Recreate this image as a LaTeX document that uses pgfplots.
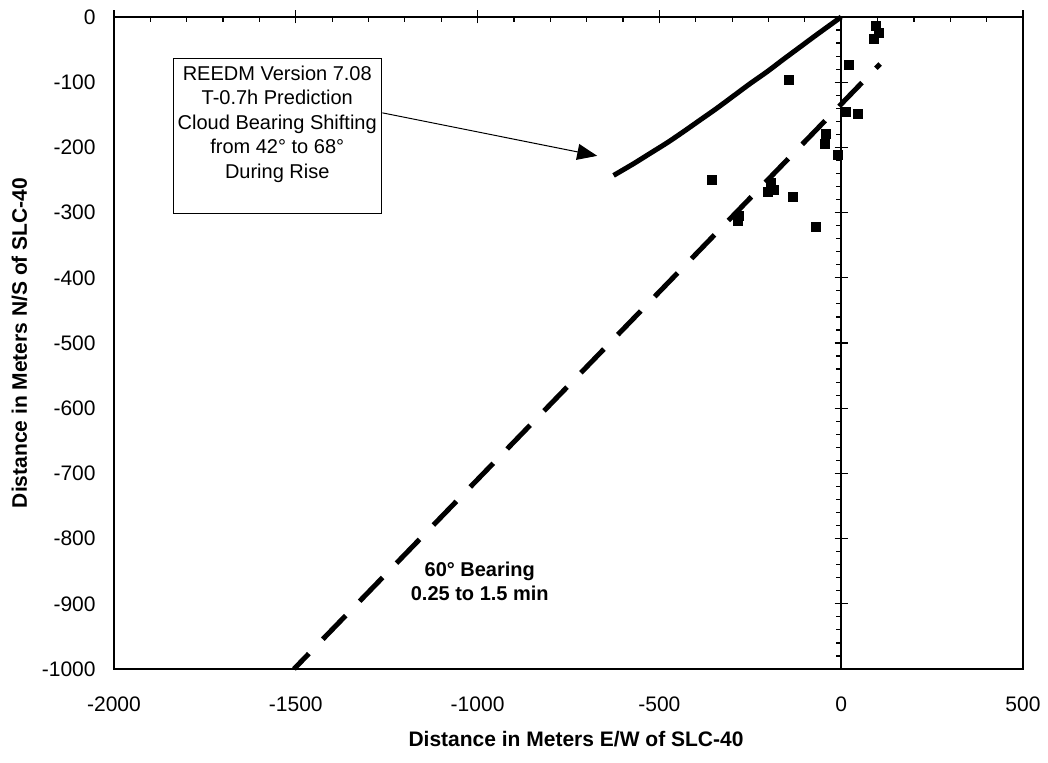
\documentclass[border=0pt]{standalone}
\usepackage{fontspec}
\setmainfont{Liberation Sans}
\usepackage{pgfplots}
\pgfplotsset{compat=1.18}
\usetikzlibrary{arrows.meta}
\begin{document}
\begin{tikzpicture}
\path[use as bounding box] (-57pt,-47pt) rectangle (467pt,334.5pt);
\begin{axis}[
  at={(0pt,0pt)}, anchor=south west,
  scale only axis, width=454.5pt, height=326pt,
  xmin=-2000, xmax=500, ymin=-1000, ymax=0,
  axis line style={line width=0.7pt},
  xtick={-2000,-1500,-1000,-500,0,500},
  xticklabels={-2000,-1500,-1000,-500,0,500},
  ytick={-1000,-900,-800,-700,-600,-500,-400,-300,-200,-100,0},
  yticklabels={-1000,-900,-800,-700,-600,-500,-400,-300,-200,-100,0},
  major tick length=0pt,
  tick label style={font=\fontsize{10.5}{12}\selectfont},
  xticklabel style={anchor=north, inner sep=0pt, yshift=-13.5pt},
  yticklabel style={anchor=east, inner sep=0pt, xshift=-9pt},
  clip=false,
]
% dashed 60 degree bearing line
\addplot[black, line width=2.5pt, dash pattern=on 16.5pt off 10pt, dash phase=13.5pt]
  coordinates {(107,-72) (-1505,-1000)};
% REEDM prediction curve
\addplot[black, line width=2.5pt, smooth]
  coordinates {(0,0) (-67,-27) (-113,-46) (-159,-65) (-204,-84) (-250,-102)
  (-296,-121) (-342,-140) (-388,-158) (-434,-176) (-479,-193) (-525,-209)
  (-571,-225) (-626,-243)};
% measured points
\addplot[only marks, mark=square*, mark size=2.25pt, black]
  coordinates {(96,-14) (103,-25) (89,-33) (22,-74) (-145,-97) (-356,-250)
  (13,-146) (46,-148) (-41,-179) (-46,-195) (-10,-211) (-193,-255)
  (-184,-265) (-202,-269) (-134,-276) (-282,-305) (-285,-313) (-70,-322)};
% annotation box
\draw[line width=0.7pt, fill=white] (axis cs:-1837,-64) rectangle (axis cs:-1265,-301);
\node[align=center, font=\fontsize{10}{12.25}\selectfont] at (axis cs:-1551,-164)
  {REEDM Version 7.08\\T-0.7h Prediction\\Cloud Bearing Shifting\\from 42° to 68°\\During Rise};
\draw[line width=0.5pt, -{Triangle[length=10pt,width=8pt]}]
  (axis cs:-1262,-147) -- (axis cs:-671,-213);
\node[align=center, font=\bfseries\fontsize{10}{12}\selectfont] at (axis cs:-994,-866)
  {60° Bearing\\0.25 to 1.5 min};
\end{axis}
\begin{axis}[
  at={(0pt,0pt)}, anchor=south west,
  scale only axis, width=454.5pt, height=326pt,
  xmin=-2000, xmax=500, ymin=-1000, ymax=0,
  axis lines=middle, axis line style={-, line width=0.8pt},
  xtick={-2000,-1500,-1000,-500,0,500},
  ytick={-1000,-900,-800,-700,-600,-500,-400,-300,-200,-100,0},
  xticklabels={}, yticklabels={},
  minor x tick num=4, minor y tick num=4,
  tick align=center, major tick length=6.5pt, minor tick length=2.5pt,
  every tick/.style={black, line width=0.6pt},
  minor x tick style={yshift=-1.25pt},
  minor y tick style={xshift=-1.25pt},
]
\end{axis}
\node[rotate=90, anchor=base, font=\bfseries\fontsize{10.5}{12}\selectfont]
  at (-43.5pt,163pt) {Distance in Meters N/S of SLC-40};
\node[anchor=base, font=\bfseries\fontsize{10.5}{12}\selectfont]
  at (231pt,-39pt) {Distance in Meters E/W of SLC-40};
\end{tikzpicture}
\end{document}
